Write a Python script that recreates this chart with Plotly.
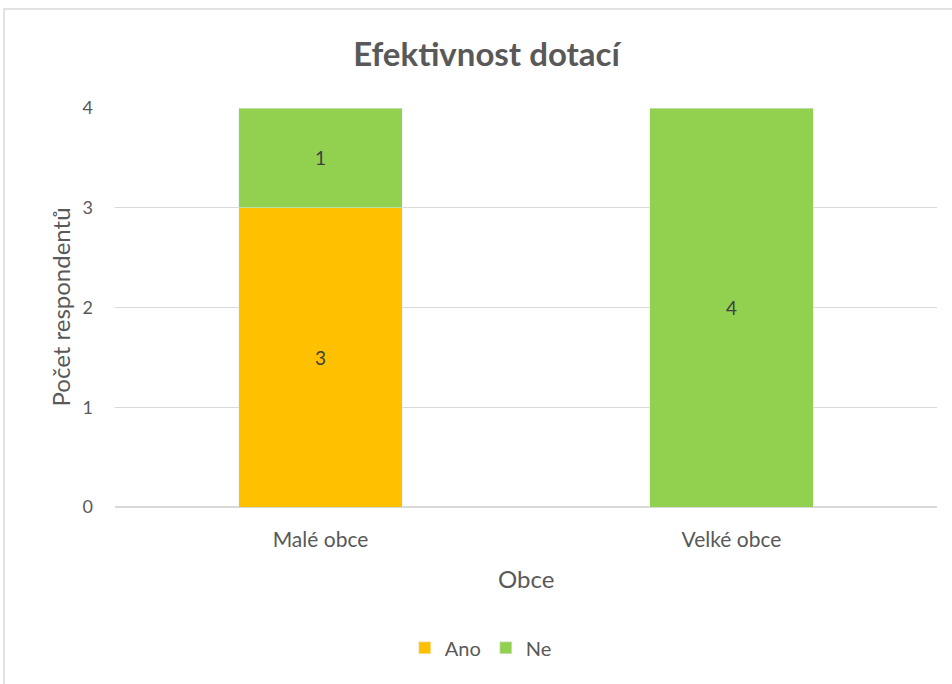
import plotly.graph_objects as go

categories = ["Malé obce", "Velké obce"]
ano = [3, 0]
ne = [1, 4]
y_ticks = [0, 1, 2, 3, 4]

FONT = "Lato"
GREY = "#595959"


def labels(values):
    return [str(v) if v else "" for v in values]


fig = go.Figure()
fig.add_trace(go.Bar(
    name="Ano", x=categories, y=ano, marker_color="#FFC000",
    text=labels(ano), textposition="inside", insidetextanchor="middle",
    textfont=dict(family=FONT, size=19, color="#404040"),
))
fig.add_trace(go.Bar(
    name="Ne", x=categories, y=ne, marker_color="#92D050",
    text=labels(ne), textposition="inside", insidetextanchor="middle",
    textfont=dict(family=FONT, size=19, color="#404040"),
))

fig.update_layout(
    barmode="stack",
    bargap=0.603,
    width=952, height=684,
    margin=dict(l=115, r=15, t=108, b=177),
    plot_bgcolor="white", paper_bgcolor="white",
    font=dict(family=FONT, color=GREY),
    title=dict(text="<b>Efektivnost dotací</b>", x=486.5 / 952, xanchor="center",
               y=1 - 54 / 684, yanchor="middle",
               font=dict(family=FONT, size=33, color=GREY)),
    showlegend=True,
    legend=dict(orientation="h", x=0.445, xanchor="center", y=-0.353, yanchor="middle",
                font=dict(family=FONT, size=20, color=GREY), itemwidth=30,
                traceorder="normal"),
    xaxis=dict(range=[-0.5, 1.5], showgrid=False, showline=False, ticks="",
               tickfont=dict(family=FONT, size=21, color=GREY), ticklabelstandoff=18),
    yaxis=dict(range=[0, 4], tickvals=y_ticks, showgrid=True, gridcolor="#D9D9D9",
               gridwidth=1, zeroline=True, zerolinecolor="#D9D9D9", showline=False,
               ticks="", tickfont=dict(family=FONT, size=18, color=GREY),
               ticklabelstandoff=21),
    annotations=[
        dict(text="Obce", xref="paper", yref="paper", x=0.5, y=(507 - 578) / 399,
             showarrow=False, xanchor="center", yanchor="middle",
             font=dict(family=FONT, size=24, color=GREY)),
        dict(text="Počet respondentů", xref="paper", yref="paper",
             x=(60 - 115) / 822, y=0.5, textangle=-90, showarrow=False,
             xanchor="center", yanchor="middle",
             font=dict(family=FONT, size=24, color=GREY)),
    ],
    shapes=[
        dict(type="rect", xref="paper", yref="paper",
             x0=(4 - 115) / 822, x1=1.2, y0=-1.0, y1=1 + (108 - 9) / 399,
             line=dict(color="#D9D9D9", width=1.5), fillcolor="rgba(0,0,0,0)",
             layer="below"),
    ],
)

fig.write_html("out.html")
